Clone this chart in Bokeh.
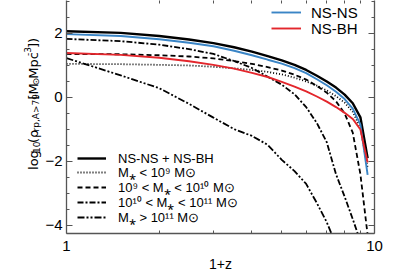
import math
from bokeh.plotting import figure
from bokeh.layouts import row
from bokeh.models import (Range1d, FixedTicker, LinearAxis, LogAxis, Legend,
                          LegendItem, BasicTickFormatter)
from bokeh.core.properties import value
from bokeh.embed import file_html
from bokeh.resources import INLINE

# ---------------- data ----------------
one_plus_z = [1.0, 1.5, 2.0, 2.5, 3.0, 3.5, 4.0, 4.5, 5.0, 5.5, 6.0, 6.5,
              7.0, 7.5, 8.0, 8.5, 9.0, 9.5]
rho_total = [2.07, 2.02, 1.92, 1.81, 1.70, 1.57, 1.43, 1.29, 1.16, 1.02, 0.86,
             0.68, 0.50, 0.31, 0.09, -0.18, -0.62, -1.90]
rho_nsns = [1.98, 1.92, 1.82, 1.71, 1.60, 1.46, 1.32, 1.18, 1.06, 0.92, 0.76,
            0.57, 0.38, 0.18, -0.05, -0.35, -0.85, -2.42]
rho_nsbh = [1.39, 1.33, 1.24, 1.13, 1.02, 0.90, 0.77, 0.64, 0.49, 0.34, 0.19,
            0.03, -0.13, -0.30, -0.48, -0.67, -1.00, -2.03]
rho_m_lt9 = [1.05, 1.04, 1.02, 1.00, 0.96, 0.91, 0.86, 0.80, 0.72, 0.62, 0.50,
             0.37, 0.22, 0.04, -0.16, -0.45, -0.95, -2.20]
rho_m_9_10 = [1.36, 1.35, 1.32, 1.28, 1.22, 1.14, 1.05, 0.95, 0.84, 0.71, 0.56,
              0.36, 0.15, -0.12, -0.50, -1.10, -2.40, -4.30]
rho_m_10_11 = [1.83, 1.76, 1.65, 1.51, 1.36, 1.14, 0.92, 0.65, 0.40, 0.10,
               -0.30, -0.80, -1.40, -2.40, -3.10, -3.80, -4.50]
rho_m_gt11 = [1.23, 0.69, 0.29, -0.20, -0.63, -0.99, -1.20, -1.48, -1.95,
              -2.30, -2.70, -3.30, -3.90, -4.60]

x_ticks = [1, 10]
x_minor_ticks = [2, 3, 4, 5, 6, 7, 8, 9]
y_ticks = [-4, -2, 0, 2]
y_minor_ticks = [-4.0, -3.5, -3.0, -2.5, -2.0, -1.5, -1.0, -0.5, 0.0, 0.5,
                 1.0, 1.5, 2.0, 2.5, 3.0]

label_nsns = "NS-NS"
label_nsbh = "NS-BH"
label_total = "NS-NS + NS-BH"
label_lt9 = "M\u204e < 10\u2079 M\u2299"
label_9_10 = "10\u2079 < M\u204e < 10\u00b9\u2070 M\u2299"
label_10_11 = "10\u00b9\u2070 < M\u204e < 10\u00b9\u00b9 M\u2299"
label_gt11 = "M\u204e > 10\u00b9\u00b9 M\u2299"
x_label = "1+z"
# y title pieces: (text, role) with role main / sub / sup
y_title_pieces = [("log", "main"), ("10", "sub"), ("(\u03c1", "main"),
                  ("rp,A>79", "sub"), ("[M", "main"), ("\u2299", "sub"),
                  ("Mpc", "main"), ("-3", "sup"), ("])", "main")]

# ---------------- style ----------------
FONT = "Liberation Sans"
TITLE_FONT = "DejaVu Sans"
AX = "#555555"
BLUE = "#3a85c6"
RED = "#e3262c"
H = 275
LABEL_W = 42

# ---------------- y title panel (pixel-space figure) ----------------
yl = figure(width=LABEL_W, height=H, x_range=Range1d(0, LABEL_W),
            y_range=Range1d(0, H), output_backend="svg",
            toolbar_location=None, min_border=0,
            x_axis_location=None, y_axis_location=None)
yl.grid.visible = False
yl.outline_line_color = None

# DejaVu Sans advance widths (units per 2048 em)
adv = {"l": 569, "o": 1253, "g": 1300, "1": 1303, "0": 1303, "(": 799,
       "\u03c1": 1300, "r": 842, "p": 1300, ",": 651, "A": 1401, ">": 1716,
       "7": 1303, "9": 1303, "[": 799, "M": 1765, "\u2299": 1716, "c": 1126,
       "-": 739, "3": 1303, "]": 799, ")": 799}
size_of = {"main": 13, "sub": 9, "sup": 9}
base_of = {"main": 33, "sub": 35.5, "sup": 26.5}
xs, ys, texts, sizes = [], [], [], []
pos = H - 200
for txt, role in y_title_pieces:
    fs = size_of[role]
    xs.append(base_of[role])
    ys.append(pos)
    texts.append(txt)
    sizes.append(f"{fs}px")
    pos += sum(adv[c] for c in txt) / 2048 * fs + 0.3
yl.text(x=xs, y=ys, text=texts, angle=math.pi / 2,
        text_font=value(TITLE_FONT), text_font_size=sizes,
        text_align="left", text_baseline="alphabetic", text_color="black")

# ---------------- main figure ----------------
p = figure(width=368, height=H, x_axis_type="log",
           x_range=Range1d(1, 10), y_range=Range1d(-4.25, 3.03),
           output_backend="svg", toolbar_location=None,
           min_border_left=20, min_border_right=36,
           min_border_top=0, min_border_bottom=42)
p.grid.visible = False
p.outline_line_color = None


def style_axis(ax):
    ax.axis_line_color = AX
    ax.axis_line_width = 1.3
    ax.major_tick_line_color = AX
    ax.minor_tick_line_color = AX
    ax.major_tick_in = 6
    ax.major_tick_out = 0
    ax.minor_tick_in = 3
    ax.minor_tick_out = 0
    ax.major_label_text_font = FONT
    ax.major_label_text_font_size = "15px"
    ax.major_label_text_color = "black"


xa = p.xaxis[0]
xa.ticker = FixedTicker(ticks=x_ticks, minor_ticks=x_minor_ticks)
xa.formatter = BasicTickFormatter()
style_axis(xa)
xa.major_label_standoff = 7
xa.axis_label = x_label
xa.axis_label_text_font = FONT
xa.axis_label_text_font_size = "14px"
xa.axis_label_text_font_style = "normal"
xa.axis_label_text_color = "black"
xa.axis_label_standoff = 2

ya = p.yaxis[0]
ya.ticker = FixedTicker(ticks=y_ticks, minor_ticks=y_minor_ticks)
style_axis(ya)
ya.major_label_standoff = 4

ra = LinearAxis(ticker=FixedTicker(ticks=y_ticks, minor_ticks=y_minor_ticks),
                major_label_overrides={t: "" for t in y_ticks})
style_axis(ra)
ra.major_label_standoff = 0
p.add_layout(ra, "right")

ta = LogAxis(ticker=FixedTicker(ticks=[], minor_ticks=x_minor_ticks))
style_axis(ta)
ta.axis_line_color = None
ta.major_label_standoff = 0
p.add_layout(ta, "above")

# ---------------- lines ----------------
r_total = p.line(one_plus_z, rho_total, line_color="black", line_width=2.4)
r_lt9 = p.line(one_plus_z, rho_m_lt9, line_color="black", line_width=1.8,
               line_dash="1 2")
r_9_10 = p.line(one_plus_z, rho_m_9_10, line_color="black", line_width=1.8,
                line_dash="5 3")
r_10_11 = p.line(one_plus_z[:len(rho_m_10_11)], rho_m_10_11, line_color="black",
                 line_width=1.8, line_dash="6 2 2 2")
r_gt11 = p.line(one_plus_z[:len(rho_m_gt11)], rho_m_gt11, line_color="black",
                line_width=1.8, line_dash="7 2 2 2 2 2")
r_nsns = p.line(one_plus_z, rho_nsns, line_color=BLUE, line_width=1.9)
r_nsbh = p.line(one_plus_z, rho_nsbh, line_color=RED, line_width=1.9)


# ---------------- legends (one entry each, for exact row placement) --------
def add_entry(label, rend, loc, glyph_w, standoff, fs):
    lg = Legend(items=[LegendItem(label=label, renderers=[rend])],
                location=loc)
    lg.border_line_color = None
    lg.background_fill_alpha = 0
    lg.padding = 0
    lg.margin = 0
    lg.spacing = 0
    lg.label_height = 22
    lg.glyph_height = 22
    lg.glyph_width = glyph_w
    lg.label_standoff = standoff
    lg.label_text_font = FONT
    lg.label_text_font_size = fs
    lg.label_text_color = "black"
    p.add_layout(lg)


add_entry(label_nsns, r_nsns, (205, 210), 30, 10, "15px")
add_entry(label_nsbh, r_nsbh, (205, 194), 30, 10, "15px")
add_entry(label_total, r_total, (11, 64), 29, 12, "13px")
add_entry(label_lt9, r_lt9, (11, 50), 29, 12, "13px")
add_entry(label_9_10, r_9_10, (11, 35), 29, 12, "13px")
add_entry(label_10_11, r_10_11, (11, 20), 29, 12, "13px")
add_entry(label_gt11, r_gt11, (11, 5), 29, 12, "13px")

layout = row(yl, p, spacing=0)
open("out.html", "w").write(file_html(layout, INLINE))
